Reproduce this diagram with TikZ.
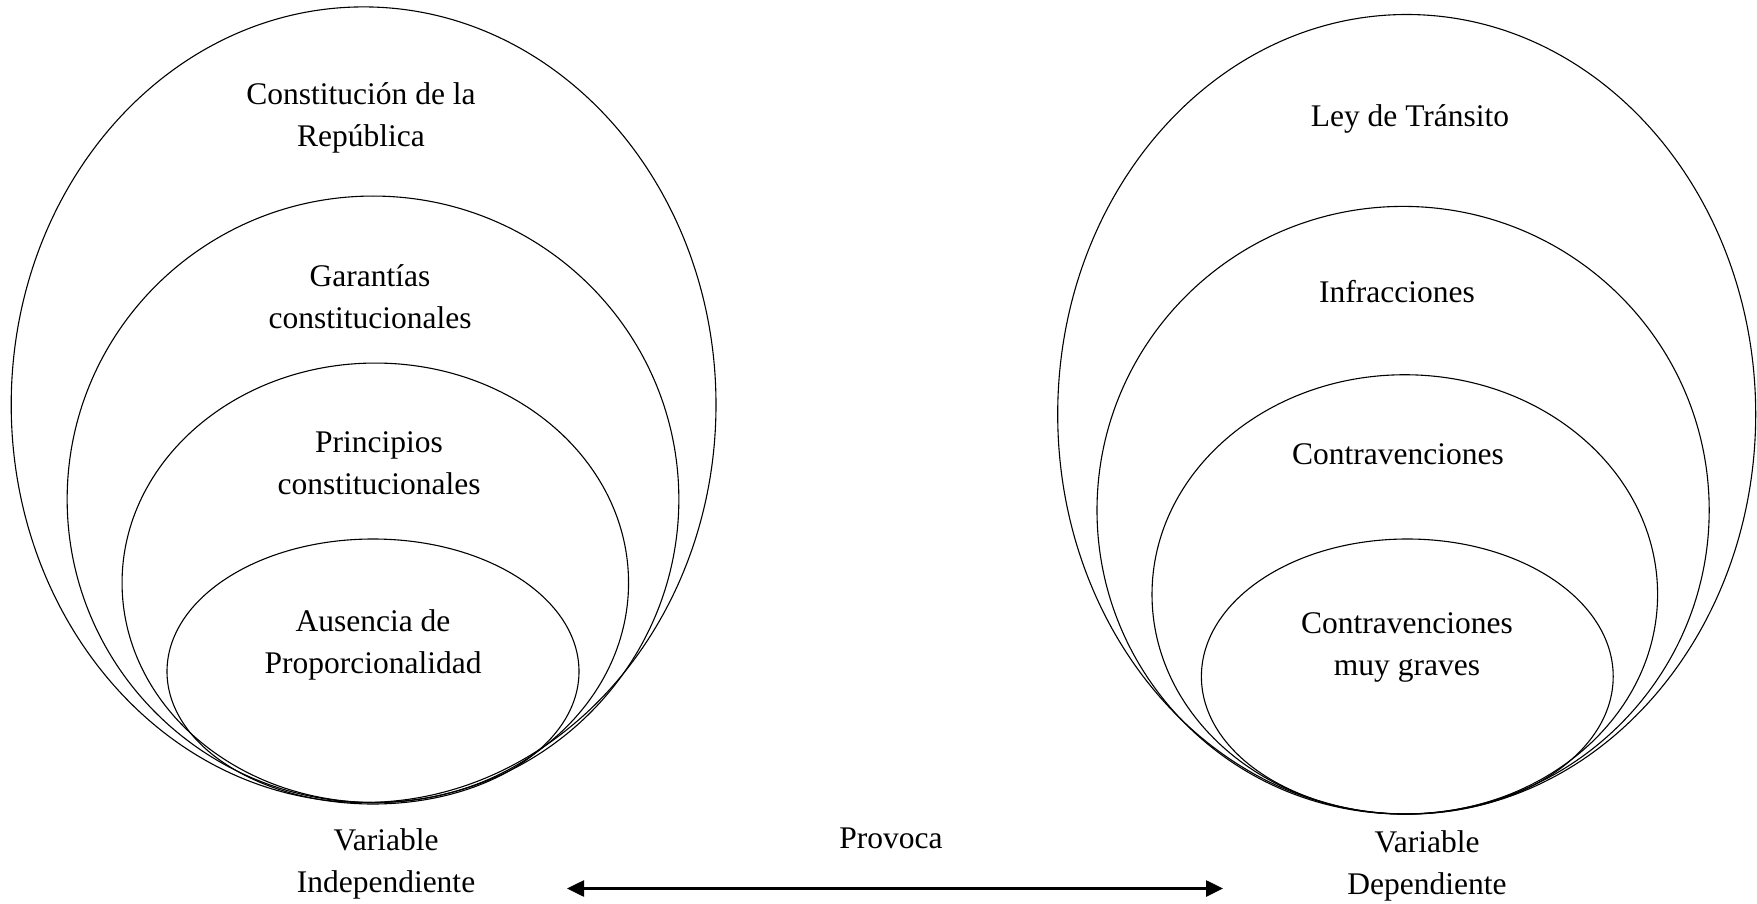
\documentclass[tikz,border=0pt]{standalone}
\usepackage{fontspec}
\setmainfont{Liberation Serif}
\usetikzlibrary{shapes.geometric,arrows.meta}
\tikzset{
  ring/.style={draw, ellipse, line width=1.1pt, inner sep=0pt},
  lbl/.style={align=center, font=\fontsize{31.5}{42}\selectfont, inner sep=0pt},
  bigarrow/.style={line width=2.6pt, {Triangle[length=17pt,width=16pt]}-{Triangle[length=17pt,width=16pt]}}
}
\begin{document}
\begin{tikzpicture}[x=1pt,y=-1pt]
\useasboundingbox (0,0) rectangle (1757,904);
% left ellipses
\node[ring, minimum width=704.8pt, minimum height=795.6pt] (L1) at (363.6,404.7) {};
\node[ring, minimum width=611.7pt, minimum height=606.5pt] (L2) at (373,499.3) {};
\node[ring, minimum width=506.5pt, minimum height=439.5pt] (L3) at (375.3,582.8) {};
\node[ring, minimum width=412pt, minimum height=265pt] (L4) at (373,671.5) {};
% right ellipses
\node[ring, minimum width=698pt, minimum height=799.6pt] (R1) at (1406.7,414.3) {};
\node[ring, minimum width=612.2pt, minimum height=607.6pt] (R2) at (1403.1,510.2) {};
\node[ring, minimum width=505.6pt, minimum height=439.3pt] (R3) at (1404.8,594.4) {};
\node[ring, minimum width=411.8pt, minimum height=275pt] (R4) at (1407.3,676.5) {};
% left labels
\node[lbl] (t1) at (361,118) {Constitución de la\\República};
\node[lbl] (t2) at (370,297) {Garantías\\constitucionales};
\node[lbl] (t3) at (379,463) {Principios\\constitucionales};
\node[lbl] (t4) at (373,645) {Ausencia de\\Proporcionalidad};
\node[lbl] (t5) at (386,863.5) {Variable\\Independiente};
% right labels
\node[lbl] (u1) at (1410,118.5) {Ley de Tránsito};
\node[lbl] (u2) at (1397,292) {Infracciones};
\node[lbl] (u3) at (1398,454) {Contravenciones};
\node[lbl] (u4) at (1407,647) {Contravenciones\\muy graves};
\node[lbl] (u5) at (1427,866) {Variable\\Dependiente};
% arrow
\node[lbl] (prov) at (891,838.5) {Provoca};
\coordinate (aL) at (567,888.5);
\coordinate (aR) at (1223,888.5);
\draw[bigarrow] (aL) -- (aR);
\end{tikzpicture}
\end{document}
